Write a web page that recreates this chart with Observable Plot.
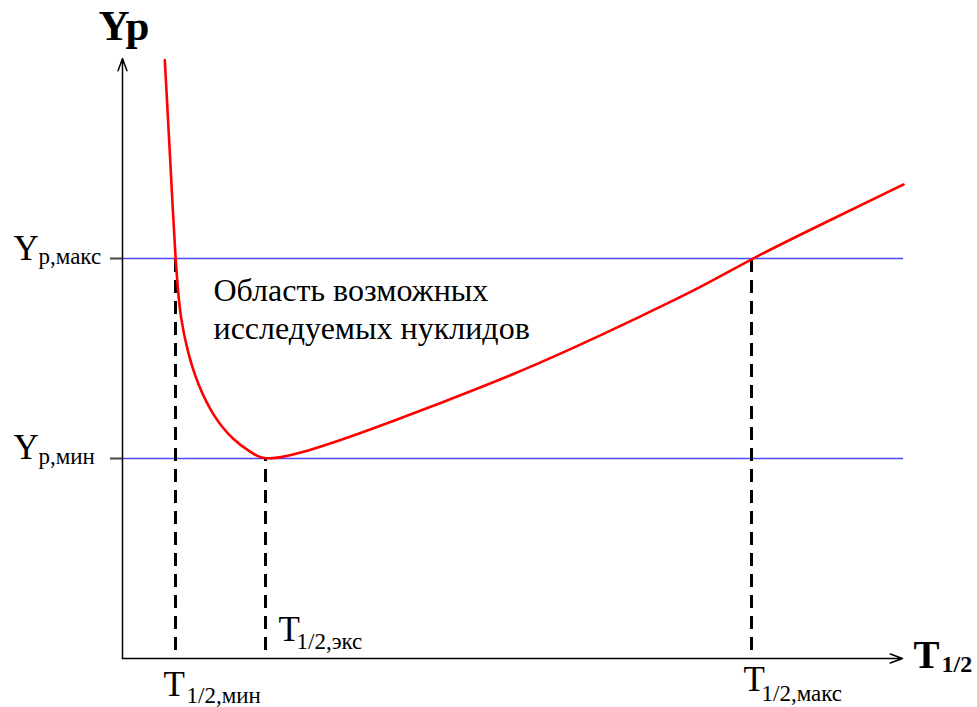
<!DOCTYPE html>
<html>
<head>
<meta charset="utf-8">
<script src="https://cdn.jsdelivr.net/npm/d3@7"></script>
<script src="https://cdn.jsdelivr.net/npm/@observablehq/plot@0.6"></script>
<style>
  html, body { margin: 0; padding: 0; background: #fff; }
</style>
</head>
<body>
<div id="chart"></div>
<script>
// Curve Yp(T1/2) (arbitrary units)
const T  = [4.23, 4.63, 5.07, 5.3, 5.55, 5.8, 6.47, 7.47, 9.1, 11.1, 12.8, 13.6, 14.3, 15.0, 15.8, 17.8, 20.5, 23.8, 27.1, 31.8, 38.5, 45.1, 51.8, 58.5, 62.9, 71.1, 78.1];
const Yp = [119.7, 105, 88.3, 80, 73.6, 68.3, 61.6, 55, 48.3, 43.6, 41.3, 40.3, 40, 40.06, 40.2, 41.1, 42.8, 45.1, 47.5, 51.1, 56.3, 62.1, 68.4, 74.9, 80, 88, 94.8];

// Characteristic values
const Tmin = 5.3, Texc = 14.3, Tmax = 62.9;
const YpMin = 40, YpMax = 80;
const xEnd = 78.1, yEnd = 120;

// Text
const yAxisTitle = "Yp";
const xAxisTitleMain = "T";
const xAxisTitleSub = "1/2";
const levelMain = "Y";
const levelSubs = ["p,макс", "p,мин"];
const tMain = "T";
const tSubs = ["1/2,мин", "1/2,экс", "1/2,макс"];
const regionText = ["Область возможных", "исследуемых нуклидов"];

const curve = T.map((t, i) => ({t, y: Yp[i]}));
const serif = "Liberation Serif, Times New Roman, DejaVu Serif, serif";

const txt = (val, o) => Plot.text([val], {
  text: d => d, fontFamily: serif, textAnchor: "start", lineAnchor: "bottom",
  fill: "#000", ...o
});

const chart = Plot.plot({
  width: 977,
  height: 707,
  margin: 0,
  style: {background: "#fff", overflow: "visible"},
  x: {type: "linear", domain: [0, xEnd], range: [122, 903], axis: null},
  y: {type: "linear", domain: [0, yEnd], range: [658, 58], axis: null},
  marks: [
    // level lines
    Plot.ruleY([YpMin, YpMax], {x1: 0, x2: xEnd, stroke: "#4a4aff", strokeWidth: 1.6}),
    // small ticks left of the y axis
    Plot.ruleY([YpMin, YpMax], {x1: -1.2, x2: 0, stroke: "#444", strokeWidth: 2}),
    // dashed drop lines
    Plot.ruleX([Tmin, Tmax], {y1: 0, y2: YpMax, stroke: "#000", strokeWidth: 3, strokeDasharray: "13,8", strokeDashoffset: -8}),
    Plot.ruleX([Texc], {y1: 0, y2: YpMin, stroke: "#000", strokeWidth: 3, strokeDasharray: "13,8", strokeDashoffset: -8}),
    // axes with arrows
    Plot.arrow([0], {x1: 0, y1: 0, x2: 0, y2: yEnd, stroke: "#000", strokeWidth: 1.5, headLength: 13, headAngle: 40}),
    Plot.arrow([0], {x1: 0, y1: 0, x2: xEnd - 0.1, y2: 0, stroke: "#000", strokeWidth: 1.5, headLength: 13, headAngle: 40}),
    // curve
    Plot.line(curve, {x: "t", y: "y", stroke: "#ff0000", strokeWidth: 2.6, curve: "basis"}),
    // axis titles
    txt(yAxisTitle, {x: 0, y: yEnd, dx: -24, dy: -19, fontSize: 43, fontWeight: "bold"}),
    txt(xAxisTitleMain, {x: xEnd, y: 0, dx: 10, dy: 9, fontSize: 39, fontWeight: "bold"}),
    txt(xAxisTitleSub, {x: xEnd, y: 0, dx: 38, dy: 13, fontSize: 24, fontWeight: "bold"}),
    // level labels
    txt(levelMain, {x: 0, y: YpMax, dx: -109, dy: 1.5, fontSize: 35}),
    txt(levelSubs[0], {x: 0, y: YpMax, dx: -84, dy: 5.5, fontSize: 23}),
    txt(levelMain, {x: 0, y: YpMin, dx: -109, dy: 0.5, fontSize: 35}),
    txt(levelSubs[1], {x: 0, y: YpMin, dx: -84, dy: 5, fontSize: 23}),
    // T labels
    txt(tMain, {x: Tmin, y: 0, dx: -12, dy: 37, fontSize: 35}),
    txt(tSubs[0], {x: Tmin, y: 0, dx: 11, dy: 44, fontSize: 23}),
    txt(tMain, {x: Texc, y: 0, dx: 13, dy: -18, fontSize: 35}),
    txt(tSubs[1], {x: Texc, y: 0, dx: 31, dy: -10, fontSize: 23}),
    txt(tMain, {x: Tmax, y: 0, dx: -8, dy: 32, fontSize: 35}),
    txt(tSubs[2], {x: Tmax, y: 0, dx: 10, dy: 42, fontSize: 23}),
    // region text
    txt(regionText[0], {x: Tmin, y: YpMax, dx: 38, dy: 42, fontSize: 32}),
    txt(regionText[1], {x: Tmin, y: YpMax, dx: 38, dy: 80, fontSize: 32})
  ]
});
document.getElementById("chart").appendChild(chart);
</script>
</body>
</html>
